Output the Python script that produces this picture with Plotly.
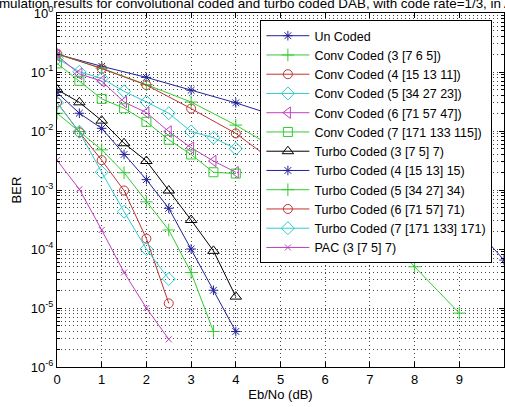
import plotly.graph_objects as go

# ---------------- data ----------------
eb_uncoded = [0, 1, 2, 3, 4, 5, 6, 7, 8, 9, 10]
ber_uncoded = [0.20, 0.125, 0.081, 0.049, 0.030, 0.017, 0.0093, 0.0042, 0.0016, 4.5e-4, 6.5e-5]

eb_conv3 = [0, 1, 2, 3, 4, 5, 6, 7, 8, 9]
ber_conv3 = [0.20, 0.116, 0.061, 0.031, 0.0126, 0.0045, 0.0013, 3.0e-4, 5.0e-5, 8.2e-6]

eb_conv4 = [0, 1, 2, 3, 4, 5, 6]
ber_conv4 = [0.205, 0.114, 0.060, 0.024, 0.0091, 0.0025, 5.0e-4]

eb_half4 = [0, 0.5, 1, 1.5, 2, 2.5, 3, 3.5, 4]
ber_conv5 = [0.17, 0.101, 0.078, 0.047, 0.031, 0.020, 0.0098, 0.0077, 0.0050]
ber_conv6 = [0.19, 0.093, 0.070, 0.031, 0.0205, 0.0098, 0.0052, 0.0031, 0.0020]
ber_conv7 = [0.14, 0.071, 0.035, 0.0243, 0.0143, 0.0071, 0.0040, 0.0020, 0.0019]

ber_turbo3 = [0.0505, 0.0306, 0.0150, 0.0062, 0.0031, 9.8e-4, 3.1e-4, 9.3e-5, 1.56e-5]
ber_turbo4 = [0.045, 0.020, 0.0111, 0.0040, 0.0015, 4.9e-4, 1.0e-4, 2.0e-5, 4.0e-6]

eb_turbo5 = [0, 0.5, 1, 1.5, 2, 2.5, 3, 3.5]
ber_turbo5 = [0.020, 0.0098, 0.0048, 0.00196, 6.3e-4, 2.1e-4, 4.0e-5, 4.0e-6]

eb_short = [0, 0.5, 1, 1.5, 2, 2.5]
ber_turbo6 = [0.0306, 0.0095, 0.0032, 9.8e-4, 1.5e-4, 1.2e-5]
ber_turbo7 = [0.030, 0.0097, 0.0020, 4.3e-4, 1.0e-4, 3.1e-5]
ber_pac = [0.0032, 0.00103, 2.1e-4, 4.0e-5, 1.0e-5, 2.95e-6]

names = [
    "Un Coded",
    "Conv Coded (3 [7 6 5])",
    "Conv Coded (4 [15 13 11])",
    "Conv Coded (5 [34 27 23])",
    "Conv Coded (6 [71 57 47])",
    "Conv Coded (7 [171 133 115])",
    "Turbo Coded (3 [7 5] 7)",
    "Turbo Coded (4 [15 13] 15)",
    "Turbo Coded (5 [34 27] 34)",
    "Turbo Coded (6 [71 57] 71)",
    "Turbo Coded (7 [171 133] 171)",
    "PAC (3 [7 5] 7)",
]

x_ticks = [0, 1, 2, 3, 4, 5, 6, 7, 8, 9, 10]
y_tickvals = [1e-6, 1e-5, 1e-4, 1e-3, 1e-2, 1e-1, 1]
y_ticktext = ["10<sup>-6</sup>", "10<sup>-5</sup>", "10<sup>-4</sup>", "10<sup>-3</sup>",
              "10<sup>-2</sup>", "10<sup>-1</sup>", "10<sup>0</sup>"]

title_text = ("Simulation results for convolutional coded and turbo coded DAB, "
              "with code rate=1/3, in AWGN channel")

# ---------------- styles ----------------
BLUE = "#22229a"
GREEN = "#33cc33"
RED = "#c03333"
CYAN = "#33cccc"
MAG = "#c040c0"
BLACK = "#000000"

series = [
    (eb_uncoded, ber_uncoded, BLUE, "asterisk-open", 8),
    (eb_conv3, ber_conv3, GREEN, "cross-thin-open", 9),
    (eb_conv4, ber_conv4, RED, "circle-open", 9),
    (eb_half4, ber_conv5, CYAN, "diamond-open", 10),
    (eb_half4, ber_conv6, MAG, "triangle-left-open", 10),
    (eb_half4, ber_conv7, GREEN, "square-open", 9),
    (eb_half4, ber_turbo3, BLACK, "triangle-up-open", 10),
    (eb_half4, ber_turbo4, BLUE, "asterisk-open", 8),
    (eb_turbo5, ber_turbo5, GREEN, "cross-thin-open", 9),
    (eb_short, ber_turbo6, RED, "circle-open", 9),
    (eb_short, ber_turbo7, CYAN, "diamond-open", 10),
    (eb_short, ber_pac, MAG, "x-thin-open", 6),
]

fig = go.Figure()
for name, (xs, ys, col, sym, sz) in zip(names, series):
    fig.add_trace(go.Scatter(
        x=xs, y=ys, name=name, mode="lines+markers",
        line=dict(color=col, width=1),
        marker=dict(symbol=sym, size=sz, color=col, line=dict(color=col, width=1)),
    ))

minor_vals = [k * 10.0 ** e for e in range(-6, 0) for k in range(2, 10)]

FONT = "Liberation Sans, Arial, sans-serif"
GRID = "#444444"

fig.update_layout(
    width=505, height=407,
    margin=dict(l=57, r=1, t=13, b=40, autoexpand=False),
    paper_bgcolor="white", plot_bgcolor="white",
    font=dict(family=FONT, size=12, color="black"),
    legend=dict(
        x=0.455, y=0.98, xanchor="left", yanchor="top",
        bgcolor="white", bordercolor="black", borderwidth=1,
        font=dict(family=FONT, size=12.5, color="black"),
        itemwidth=43, tracegroupgap=0,
    ),
    xaxis=dict(
        range=[0, 10], tickmode="array", tickvals=x_ticks, automargin=False,
        ticks="inside", ticklen=5, tickcolor="black",
        showline=True, linecolor="black", linewidth=1, mirror="ticks",
        showgrid=True, gridcolor=GRID, griddash="1px,3px", gridwidth=1,
        zeroline=False,
        title=dict(text="Eb/No (dB)", standoff=4, font=dict(size=13)),
        tickfont=dict(size=13),
    ),
    yaxis=dict(
        type="log", range=[-6, 0], tickmode="array", automargin=False,
        tickvals=y_tickvals, ticktext=y_ticktext,
        ticks="inside", ticklen=5, tickcolor="black",
        showline=True, linecolor="black", linewidth=1, mirror="ticks",
        showgrid=True, gridcolor=GRID, griddash="1px,3px", gridwidth=1,
        zeroline=False,
        minor=dict(tickmode="array", tickvals=minor_vals, ticks="inside", ticklen=3,
                   tickcolor="black", showgrid=True, gridcolor=GRID,
                   griddash="1px,3px", gridwidth=1),
        title=dict(text="BER", standoff=6, font=dict(size=13)),
        tickfont=dict(size=13),
    ),
    annotations=[dict(
        text=title_text, xref="paper", yref="paper",
        x=-0.162, y=1, xanchor="left", yanchor="middle", yshift=10,
        showarrow=False, font=dict(family=FONT, size=13.4, color="black"),
    )],
)

fig.write_html("out.html", config={"displayModeBar": False},
               post_script="document.body.style.margin='0px';")
